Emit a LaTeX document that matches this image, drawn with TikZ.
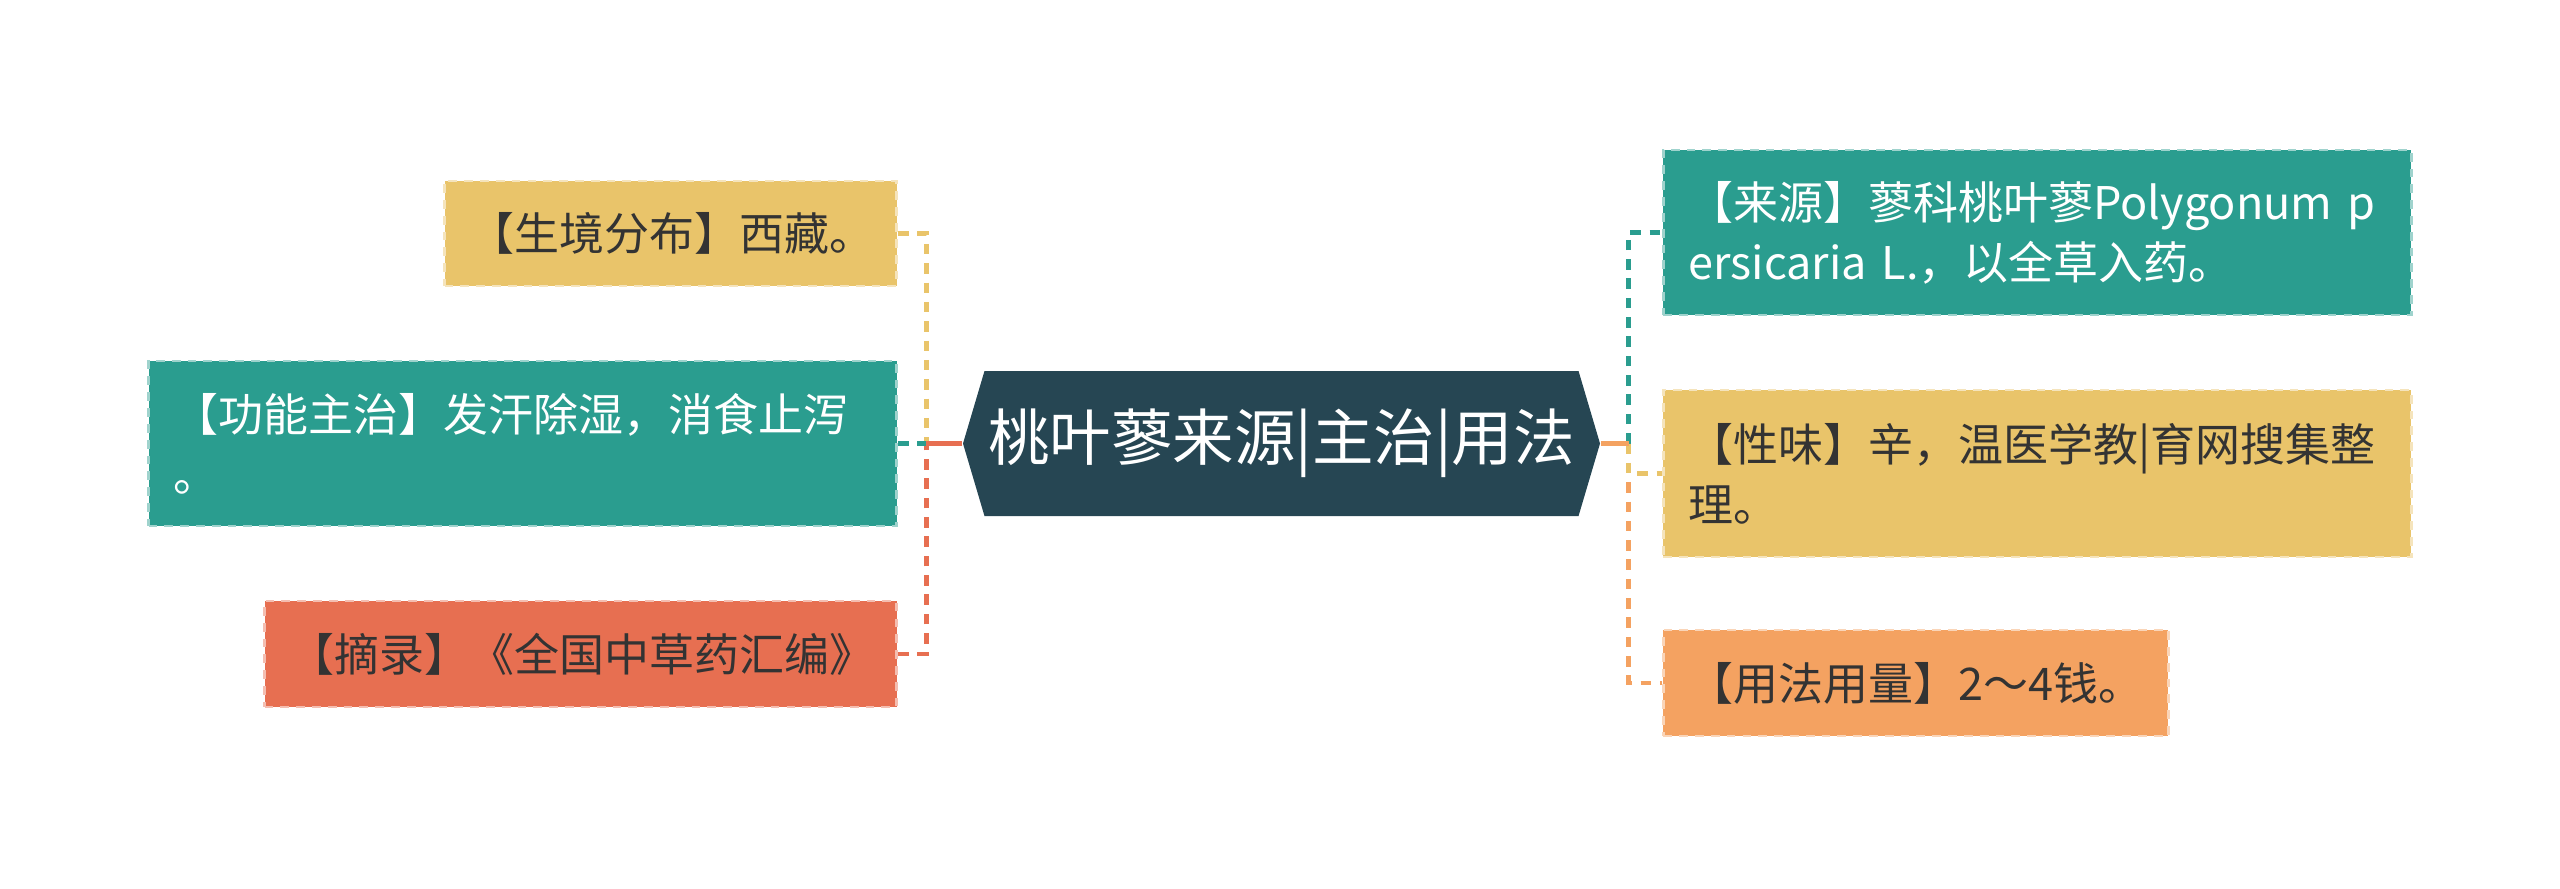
\documentclass[tikz,border=0pt]{standalone}
\usepackage{fontspec}
\newfontfamily\cjk{Noto Sans CJK SC}
\usepackage{tikz}
\usetikzlibrary{positioning, shapes.symbols}

\definecolor{hubblue}{HTML}{264653}
\definecolor{tealc}{HTML}{2A9D8F}
\definecolor{sandc}{HTML}{E9C46A}
\definecolor{orangec}{HTML}{F4A261}
\definecolor{redc}{HTML}{E76F51}
\definecolor{inkc}{HTML}{333333}

\begin{document}
\begin{tikzpicture}[
  font=\cjk\fontsize{12.8}{17}\selectfont,
  leaf/.style={fill=#1, draw=#1!45!white, dash pattern=on 2.5pt off 2pt,
               line width=0.8pt, inner xsep=2.5mm, inner ysep=0pt,
               align=left, text=inkc},
  hub/.style={signal, signal to=west and east, signal pointer angle=147,
              fill=hubblue, text=white, inner sep=0pt,
              minimum width=6.37cm, minimum height=1.45cm,
              font=\cjk\fontsize{17.5}{20}\selectfont},
  lnk/.style={draw=#1, dash pattern=on 3pt off 2.5pt, line width=1.3pt},
  stem/.style={draw=#1, line width=1.6pt}
]
\useasboundingbox (0,0) rectangle (25.6,-8.88);

% centre
\node[hub] (hub) at (12.815,-4.435) {桃叶蓼来源|主治|用法};

% left branches
\node[leaf=sandc, text width=4.02cm, minimum height=1.05cm, anchor=east]
  (habitat) at (8.98,-2.335) {【生境分布】西藏。};
\node[leaf=tealc, text=white, text width=6.98cm, minimum height=1.65cm, anchor=east]
  (effect) at (8.98,-4.435) {【功能主治】发汗除湿，消食止泻\\。};
\node[leaf=redc, text width=5.82cm, minimum height=1.06cm, anchor=east]
  (excerpt) at (8.98,-6.54) {【摘录】《全国中草药汇编》};

% right branches
\node[leaf=tealc, text=white, text width=6.98cm, minimum height=1.65cm, anchor=west]
  (origin) at (16.62,-2.325) {【来源】蓼科桃叶蓼Polygonum p\\ersicaria L.，以全草入药。};
\node[leaf=sandc, text width=6.98cm, minimum height=1.67cm, anchor=west]
  (taste) at (16.62,-4.735) {【性味】辛，温医学教|育网搜集整\\理。};
\node[leaf=orangec, text width=4.55cm, minimum height=1.06cm, anchor=west]
  (dosage) at (16.62,-6.83) {【用法用量】2～4钱。};

\coordinate (ljoin) at ([xshift=-0.36cm]hub.west);
\coordinate (rjoin) at ([xshift=0.28cm]hub.east);

\draw[lnk=sandc] (habitat.east) -| (ljoin);
\draw[lnk=redc] (excerpt.east) -| (ljoin);
\draw[lnk=tealc] (effect.east) -- (ljoin);
\draw[stem=redc] (hub.west) -- (ljoin);

\draw[lnk=tealc] (rjoin) |- (origin.west);
\draw[lnk=orangec] (rjoin) |- (dosage.west);
\draw[lnk=sandc] (rjoin) |- (taste.west);
\draw[stem=orangec] (hub.east) -- (rjoin);
\end{tikzpicture}
\end{document}
